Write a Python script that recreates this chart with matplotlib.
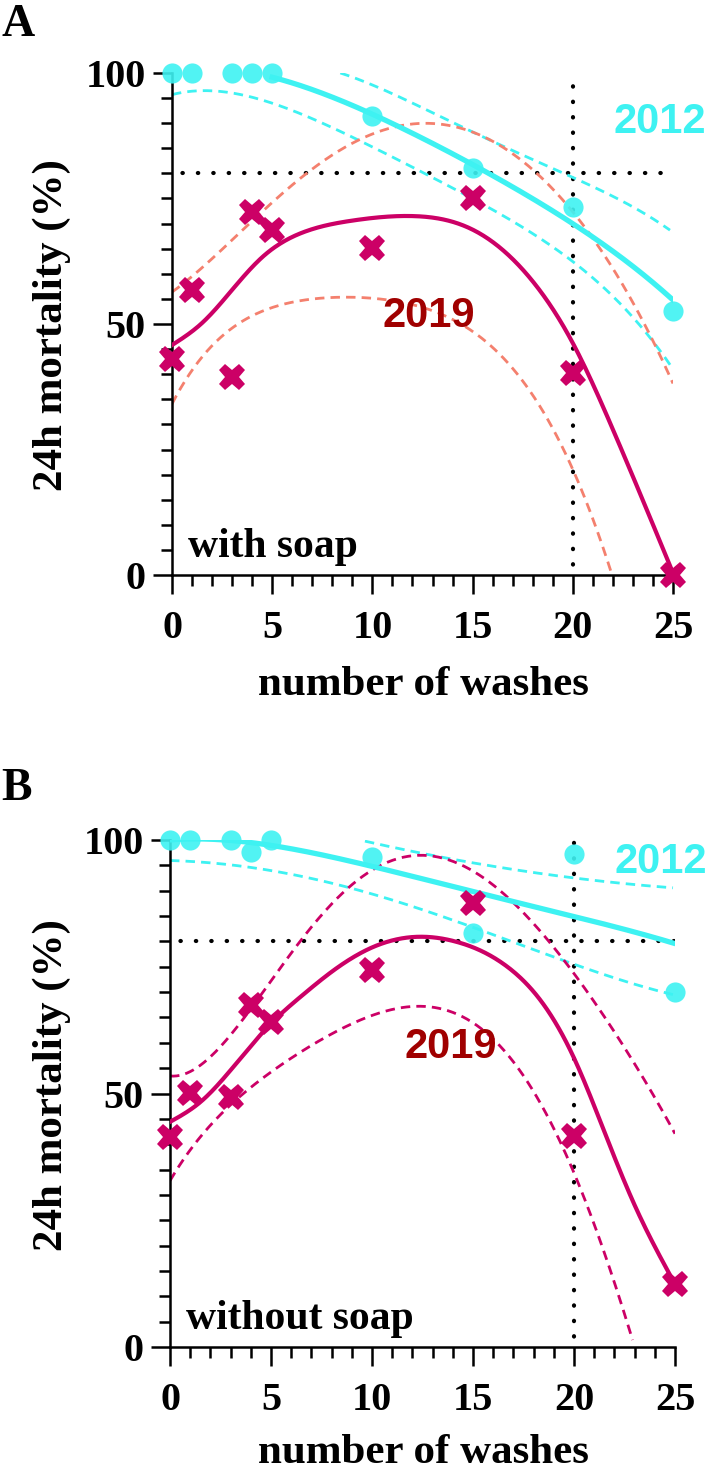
import numpy as np
import matplotlib
matplotlib.use("Agg")
import matplotlib.pyplot as plt
from matplotlib.ticker import MultipleLocator

# ---- data ----
WASHES = [0, 1, 3, 4, 5, 10, 15, 20, 25]

# panel A: with soap
A_2012 = [100, 100, 100, 100, 100, 91.4, 81.1, 73.4, 52.6]
A_2019 = [43, 56.8, 39.4, 72.4, 68.7, 65.1, 75.1, 40.2, 0]

# panel B: without soap
B_2012 = [100, 100, 100, 97.7, 100, 96.7, 81.7, 97.2, 70]
B_2019 = [41.5, 50.1, 49.4, 67.5, 64.2, 74.4, 87.5, 41.6, 12.4]

# fitted curves and confidence bands (x, y)
A_FIT_2012_X = [5.0, 8.0, 11.7, 15.0, 18.4, 20.0, 21.7, 25.0]
A_FIT_2012_Y = [99.2, 95.0, 89.0, 81.3, 74.1, 70.3, 65.1, 54.8]
A_HI_2012_X = [8.4, 11.7, 15.0, 18.4, 21.7, 24.85]
A_HI_2012_Y = [100, 94.6, 88.2, 82.1, 76.0, 68.7]
A_LO_2012_X = [0, 1.9, 4.7, 7.2, 9.4, 11.7, 15.0, 18.4, 21.7, 25.0]
A_LO_2012_Y = [95.6, 96.6, 94.6, 90.0, 86.6, 82.0, 75.1, 66.7, 56.8, 41.0]

A_FIT_2019_X = [0, 1.5, 3, 4.5, 6.5, 9, 12, 15, 18, 20, 22, 25]
A_FIT_2019_Y = [45.8, 50.2, 56.8, 63.3, 68.2, 70.6, 71.5, 68.8, 58.5, 46.2, 29.0, 0.4]
A_HI_2019_X = [0, 1.4, 3.9, 6.4, 9.4, 11.4, 13.4, 15.9, 18.4, 20.0, 21.7, 23.35, 25.0]
A_HI_2019_Y = [57.2, 59.2, 70.7, 80.0, 86.6, 88.6, 89.4, 87.3, 80.0, 72.0, 62.7, 51.4, 38.4]
A_LO_2019_X = [0, 1.4, 3.0, 5.5, 8.0, 11.7, 14.2, 16.7, 18.4, 20.0, 21.9]
A_LO_2019_Y = [34.5, 42.0, 49.5, 54.4, 55.2, 53.4, 50.8, 43.0, 33.5, 20.3, 1.0]

B_FIT_2012_X = [0, 5.1, 8.1, 13.4, 16.7, 19.95, 24.9]
B_FIT_2012_Y = [100, 99.0, 96.4, 91.5, 88.2, 84.9, 79.7]
B_HI_2012_X = [9.65, 13.4, 16.7, 19.95, 24.9]
B_HI_2012_Y = [99.8, 96.7, 94.1, 92.8, 90.5]
B_LO_2012_X = [0, 3.1, 6.4, 9.4, 11.7, 15.0, 18.3, 21.6, 24.9]
B_LO_2012_Y = [96.0, 95.0, 92.8, 90.1, 87.6, 82.6, 77.6, 73.7, 69.4]

B_FIT_2019_X = [0, 1.5, 3, 5, 6.5, 8, 10, 12.2, 14.2, 16.7, 18.3, 20, 21.5, 23, 25]
B_FIT_2019_Y = [44.4, 48.3, 54.6, 63.8, 69.2, 74.0, 78.8, 80.9, 79.9, 75.0, 68.6, 57.0, 42.5, 28.0, 12.4]
B_HI_2019_X = [0, 2.3, 4.3, 6.4, 8.4, 10.0, 12.9, 15.0, 17.5, 19.95, 22.4, 25.0]
B_HI_2019_Y = [53.6, 58.0, 68.4, 80.3, 88.8, 94.1, 96.4, 94.1, 85.6, 74.4, 59.2, 42.2]
B_LO_2019_X = [0, 1.5, 3.1, 4.8, 8.1, 11.7, 13.9, 16.7, 18.3, 19.95, 21.6, 22.9]
B_LO_2019_Y = [32.6, 42.2, 47.1, 54.0, 62.5, 66.0, 66.5, 59.2, 47.3, 33.6, 19.1, 0.8]

# ---- styling ----
CYAN = "#3EF2F2"
CRIMSON = "#CC0066"
SALMON = "#F4806E"
DARKRED = "#A00000"
SERIF = ["Liberation Serif", "DejaVu Serif"]
SANS = ["Liberation Sans", "DejaVu Sans"]

W, H = 707, 1472
DASH = (0, (3.4, 2.2))


def smooth(xs, ys, deg=4):
    # least-squares polynomial through the read-off band points
    xs = np.asarray(xs, float)
    ys = np.asarray(ys, float)
    deg = min(deg, len(xs) - 1)
    coef = np.polyfit(xs, ys, deg)
    xx = np.linspace(xs.min(), xs.max(), 300)
    return xx, np.polyval(coef, xx)


def spline(xs, ys):
    # natural cubic spline through the read-off curve points
    x = np.asarray(xs, float)
    y = np.asarray(ys, float)
    n = len(x)
    h = np.diff(x)
    A = np.zeros((n, n))
    b = np.zeros(n)
    A[0, 0] = A[-1, -1] = 1
    for i in range(1, n - 1):
        A[i, i - 1] = h[i - 1]
        A[i, i] = 2 * (h[i - 1] + h[i])
        A[i, i + 1] = h[i]
        b[i] = 6 * ((y[i + 1] - y[i]) / h[i] - (y[i] - y[i - 1]) / h[i - 1])
    M = np.linalg.solve(A, b)
    xx = np.linspace(x[0], x[-1], 400)
    k = np.clip(np.searchsorted(x, xx) - 1, 0, n - 2)
    t1 = x[k + 1] - xx
    t0 = xx - x[k]
    hk = h[k]
    yy = (M[k] * t1 ** 3 + M[k + 1] * t0 ** 3) / (6 * hk) \
        + (y[k] / hk - M[k] * hk / 6) * t1 + (y[k + 1] / hk - M[k + 1] * hk / 6) * t0
    return xx, yy


def dotted(ax, x, y):
    ax.plot(x, y, color="black", lw=3.0, linestyle=(1.2, (0.1, 3.6)),
            dash_capstyle="round", zorder=1)


def panel(ax, d2012, d2019, curves, band_col, note, pos2012, pos2019):
    fit12, hi12, lo12, fit19, hi19, lo19 = curves

    dotted(ax, [0, 25], [80, 80])
    dotted(ax, [20, 20], [0, 100])

    xx, yy = smooth(*hi12, 2 if len(hi12[0]) < 6 else 4)
    ax.plot(xx, yy, color=CYAN, lw=2.0, linestyle=DASH, zorder=2)
    xx, yy = smooth(*lo12)
    ax.plot(xx, yy, color=CYAN, lw=2.0, linestyle=DASH, zorder=2)
    for xs, ys in (hi19, lo19):
        xx, yy = smooth(xs, ys, 5)
        ax.plot(xx, yy, color=band_col, lw=2.0, linestyle=DASH, zorder=2)

    xx, yy = smooth(*fit12)
    ax.plot(xx, yy, color=CYAN, lw=3.8, zorder=3)
    xx, yy = spline(*fit19)
    ax.plot(xx, yy, color=CRIMSON, lw=3.0, zorder=3)

    ax.plot(WASHES, d2012, "o", color=CYAN, ms=14.5, mew=0, alpha=0.9,
            clip_on=False, zorder=4)
    ax.plot(WASHES, d2019, "X", color=CRIMSON, ms=19, mew=0,
            clip_on=False, zorder=5)

    ax.text(pos2012[0], pos2012[1], "2012", color=CYAN, fontsize=30,
            fontweight="bold", family=SANS, ha="center", va="center", clip_on=False)
    ax.text(pos2019[0], pos2019[1], "2019", color=DARKRED, fontsize=30,
            fontweight="bold", family=SANS, ha="center", va="center")
    ax.text(0.8, 3.6, note, fontsize=30, fontweight="bold", family=SERIF,
            ha="left", va="baseline")

    ax.set_xlim(0, 25)
    ax.set_ylim(0, 100)
    ax.set_xticks([0, 5, 10, 15, 20, 25])
    ax.set_yticks([0, 50, 100])
    ax.xaxis.set_minor_locator(MultipleLocator(1))
    ax.yaxis.set_minor_locator(MultipleLocator(5))
    for s in ("top", "right"):
        ax.spines[s].set_visible(False)
    for s in ("left", "bottom"):
        ax.spines[s].set_linewidth(1.8)
    ax.tick_params(which="major", length=14, width=1.8, direction="out")
    ax.tick_params(which="minor", length=8, width=1.8, direction="out")
    ax.tick_params(axis="x", which="major", pad=11)
    ax.tick_params(axis="y", which="major", pad=5)
    for lab in ax.get_xticklabels() + ax.get_yticklabels():
        lab.set_family(SERIF)
        lab.set_fontweight("bold")
        lab.set_fontsize(29)


fig = plt.figure(figsize=(W / 100, H / 100), dpi=100)
axA = fig.add_axes([172 / W, 1 - 575 / H, 501 / W, 502 / H])
axB = fig.add_axes([170 / W, 1 - 1347 / H, 505 / W, 507 / H])

panel(axA, A_2012, A_2019,
      [(A_FIT_2012_X, A_FIT_2012_Y), (A_HI_2012_X, A_HI_2012_Y), (A_LO_2012_X, A_LO_2012_Y),
       (A_FIT_2019_X, A_FIT_2019_Y), (A_HI_2019_X, A_HI_2019_Y), (A_LO_2019_X, A_LO_2019_Y)],
      SALMON, "with soap", (24.35, 90.2), (12.8, 51.6))
panel(axB, B_2012, B_2019,
      [(B_FIT_2012_X, B_FIT_2012_Y), (B_HI_2012_X, B_HI_2012_Y), (B_LO_2012_X, B_LO_2012_Y),
       (B_FIT_2019_X, B_FIT_2019_Y), (B_HI_2019_X, B_HI_2019_Y), (B_LO_2019_X, B_LO_2019_Y)],
      CRIMSON, "without soap", (24.3, 95.7), (13.9, 59.2))

for label, ytop, yc, ybase in (("A", 36, 325, 695), ("B", 800, 1085, 1463)):
    fig.text(1 / W, 1 - ytop / H, label, fontsize=33, fontweight="bold",
             family=SERIF, ha="left", va="baseline")
    fig.text(52 / W, 1 - yc / H, "24h mortality (%)", fontsize=31,
             fontweight="bold", family=SERIF, rotation=90, ha="center", va="center")
    fig.text(423 / W, 1 - ybase / H, "number of washes", fontsize=31,
             fontweight="bold", family=SERIF, ha="center", va="baseline")

fig.savefig("out.png", dpi=100)
